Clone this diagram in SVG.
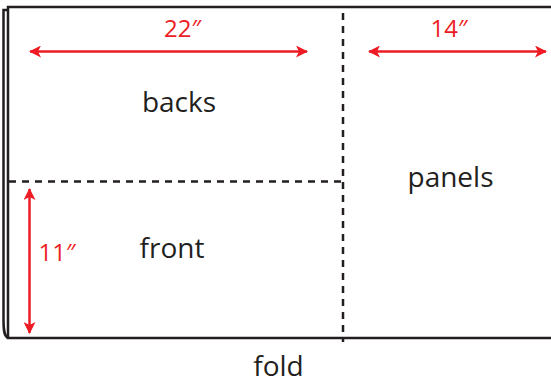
<svg xmlns="http://www.w3.org/2000/svg" width="551" height="383" viewBox="0 0 551 383">
<defs>
<style>
.edge{fill:none;stroke:#231f20;stroke-width:2.5}
.dash{fill:none;stroke:#231f20;stroke-width:2.5;stroke-dasharray:7,6}
.dim{fill:none;stroke:#ed1c24;stroke-width:2.5}
.lbl{font-family:"Open Sans","Liberation Sans",sans-serif;font-size:28px;fill:#231f20;text-anchor:middle}
.num{font-family:"Open Sans","Liberation Sans",sans-serif;font-size:24px;fill:#ed1c24;text-anchor:middle}
</style>
<marker id="ah" viewBox="0 0 12 12" refX="11" refY="6" markerWidth="12" markerHeight="12" markerUnits="userSpaceOnUse" orient="auto-start-reverse">
<path d="M0,0 L12,6 L0,12 L3,6 Z" fill="#ed1c24"/>
</marker>
</defs>
<rect width="551" height="383" fill="#ffffff"/>
<g id="sheet">
<path class="edge" d="M8,338 C4,336 3.5,330 3.5,320 L3.5,10 L8,10"/>
<path class="edge" d="M551,7 L8,7 L8,338 L551,338"/>
</g>
<g id="connectors">
<line class="dash" x1="343" y1="13" x2="343" y2="342"/>
<line class="dash" x1="9" y1="181.5" x2="343" y2="181.5"/>
<line class="dim" x1="30" y1="51.5" x2="307" y2="51.5" marker-start="url(#ah)" marker-end="url(#ah)"/>
<line class="dim" x1="369" y1="51.5" x2="546" y2="51.5" marker-start="url(#ah)" marker-end="url(#ah)"/>
<line class="dim" x1="29.5" y1="189" x2="29.5" y2="333" marker-start="url(#ah)" marker-end="url(#ah)"/>
</g>
<g id="backs"><text class="lbl" x="179" y="112">backs</text></g>
<g id="front"><text class="lbl" x="172" y="258">front</text></g>
<g id="panels"><text class="lbl" x="450.5" y="186.5">panels</text></g>
<g id="fold"><text class="lbl" x="278.5" y="376">fold</text></g>
<g id="dim22"><text class="num" x="182.5" y="36.5">22″</text></g>
<g id="dim14"><text class="num" x="449" y="36.5">14″</text></g>
<g id="dim11"><text class="num" x="57" y="261">11″</text></g>
</svg>
